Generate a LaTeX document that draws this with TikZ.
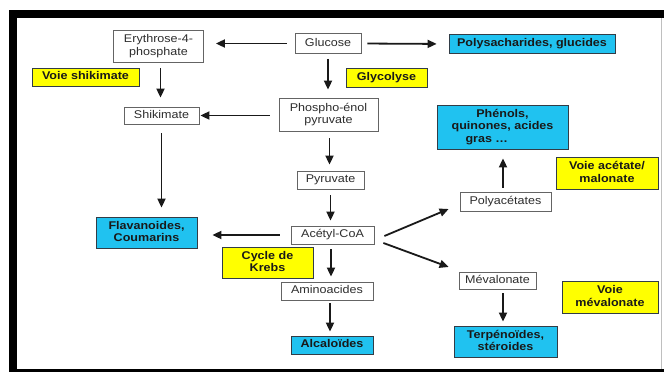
\documentclass[tikz,border=0pt]{standalone}
\usepackage{fontspec}
\setmainfont{Liberation Sans}[FakeStretch=1.12]
\usetikzlibrary{arrows.meta}
\definecolor{cyanbox}{RGB}{32,194,240}
\definecolor{yelbox}{RGB}{255,255,0}
\definecolor{wborder}{RGB}{100,100,100}
\definecolor{cborder}{RGB}{50,60,70}
\definecolor{wtext}{RGB}{45,45,45}
\newcommand\boxstrut{\rule[-2.4pt]{0pt}{10.4pt}}
\tikzset{
  base/.style={draw, rectangle, inner sep=0pt, align=center, font=\fontsize{11.2}{12.5}\selectfont, line width=0.8pt,
    execute at begin node=\boxstrut, execute at end node=\boxstrut},
  wbox/.style={base, fill=white, draw=wborder, text=wtext},
  cbox/.style={base, fill=cyanbox, draw=cborder, text=black!90, font=\fontsize{11.2}{12.5}\selectfont\bfseries},
  ybox/.style={base, fill=yelbox, draw=cborder, text=black!90, font=\fontsize{11.2}{12.5}\selectfont\bfseries},
  sz/.style 2 args={minimum width=#1pt, minimum height=#2pt},
  arr/.style={line width=1.8pt, -{Triangle[length=9pt,width=8pt]}, black!90}
}
\begin{document}
\begin{tikzpicture}[x=1pt,y=-1pt]
\useasboundingbox (0,0) rectangle (664,372);
\fill[white] (0,0) rectangle (664,372);
\fill[black] (9,10) rectangle (664,18);
\fill[black] (9,10) rectangle (17,372);
\fill[black] (9,369) rectangle (664,372);
\draw[black!25, line width=0.8pt] (661,18) -- (661,369);

\node[wbox, sz={90}{32}] (ery) at (158.5,46) {Erythrose-4-\\phosphate};
\node[wbox, sz={66}{20}] (glu) at (328,43.5) {Glucose};
\node[cbox, sz={166}{19}] (poly) at (532,44) {Polysacharides, glucides};
\node[ybox, sz={107}{18}] (vshik) at (85.5,77) {Voie shikimate};
\node[ybox, sz={81}{19}] (glyc) at (386.5,77.5) {Glycolyse};
\node[wbox, sz={75}{17}] (shik) at (161.5,115.5) {Shikimate};
\node[wbox, sz={99}{33}] (pep) at (328.5,114.5) {Phospho-énol\\pyruvate};
\node[cbox, sz={131}{44}] (phen) at (502.5,127) {Phénols,\\quinones, acides\\\makebox[74pt][l]{gras …}};
\node[wbox, sz={67}{18}] (pyr) at (330.5,180) {Pyruvate};
\node[ybox, sz={102}{32}] (vac) at (607,173) {Voie acétate/\\malonate};
\node[wbox, sz={91}{19}] (polyac) at (505.5,201.5) {Polyacétates};
\node[cbox, sz={101}{31}] (flav) at (146.5,232.5) {Flavanoides,\\Coumarins};
\node[wbox, sz={83}{18}] (acetyl) at (332.5,235) {Acétyl-CoA};
\node[ybox, sz={91}{31}] (krebs) at (267.5,262.5) {Cycle de\\Krebs};
\node[wbox, sz={92}{18}] (amino) at (327,291) {Aminoacides};
\node[cbox, sz={82}{18}] (alc) at (332,345) {Alcaloïdes};
\node[wbox, sz={77}{17}] (meval) at (497.5,280.5) {Mévalonate};
\node[ybox, sz={96}{32}] (vmev) at (610,297) {Voie\\mévalonate};
\node[cbox, sz={103}{31}] (terp) at (505.5,341.5) {Terpénoïdes,\\stéroides};

\draw[arr, shorten <=8pt, shorten >=12pt] (glu.west) -- (glu.west -| ery.east);
\draw[arr, shorten <=6pt, shorten >=12pt] (glu.east) -- (poly.west);
\draw[arr, shorten <=5pt, shorten >=8pt] (glu.south) -- (glu.south |- pep.north);
\draw[arr, shorten <=6pt, shorten >=9pt] ([xshift=2pt]ery.south) -- ([xshift=2pt]ery.south |- shik.north);
\draw[arr, shorten <=9pt, shorten >=1pt] (pep.west |- shik.east) -- (shik.east);
\draw[arr, shorten <=9pt, shorten >=9pt] (shik.south) -- (shik.south |- flav.north);
\draw[arr, shorten <=7pt, shorten >=6pt] ([xshift=1pt]pep.south) -- ([xshift=1pt]pep.south |- pyr.north);
\draw[arr, shorten <=6pt, shorten >=5pt] (pyr.south) -- (pyr.south |- acetyl.north);
\draw[arr, shorten <=11pt, shorten >=15pt] (acetyl.west) -- (acetyl.west -| flav.east);
\draw[arr] ([xshift=10pt,yshift=-1pt]acetyl.east) -- ([xshift=-11pt,yshift=-7.5pt]polyac.west);
\draw[arr] ([xshift=9pt,yshift=-8pt]acetyl.east) -- ([xshift=-10pt,yshift=13.5pt]meval.west);
\draw[arr, shorten <=5pt, shorten >=5pt] ([xshift=-1.5pt]acetyl.south) -- ([xshift=-1.5pt]acetyl.south |- amino.north);
\draw[arr, shorten <=3pt, shorten >=4pt] ([xshift=3pt]amino.south) -- ([xshift=3pt]amino.south |- alc.north);
\draw[arr, shorten <=4pt, shorten >=9pt] ([xshift=-2.5pt]polyac.north) -- ([xshift=-2.5pt]polyac.north |- phen.south);
\draw[arr, shorten <=4pt, shorten >=4pt] ([xshift=5.5pt]meval.south) -- ([xshift=5.5pt]meval.south |- terp.north);
\end{tikzpicture}
\end{document}
